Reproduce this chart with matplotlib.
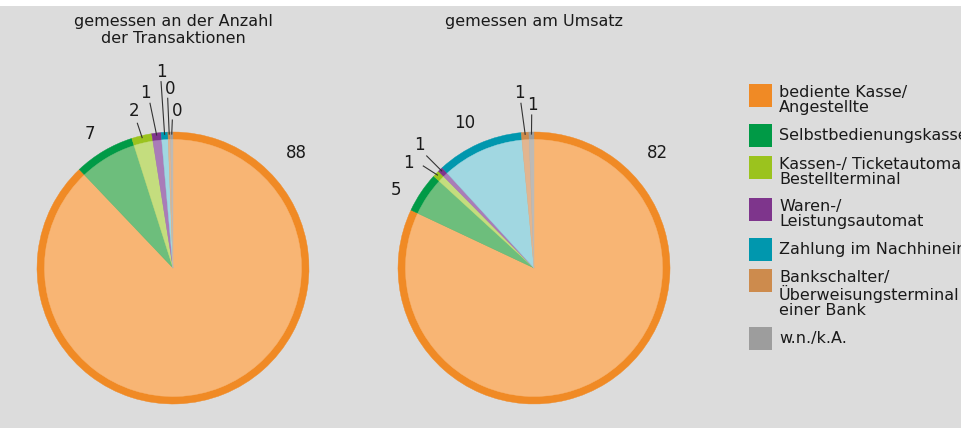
import numpy as np
import matplotlib.pyplot as plt
from matplotlib.patches import Rectangle

# data
categories = ['bediente Kasse/\nAngestellte', 'Selbstbedienungskasse',
              'Kassen-/ Ticketautomat/\nBestellterminal', 'Waren-/\nLeistungsautomat',
              'Zahlung im Nachhinein', 'Bankschalter/\nÜberweisungsterminal\neiner Bank',
              'w.n./k.A.']
anzahl = [87.9, 7.2, 2.4, 1.1, 0.8, 0.3, 0.3]
umsatz = [82.0, 4.8, 0.8, 0.6, 10.3, 0.9, 0.6]
anzahl_labels = ['88', '7', '2', '1', '1', '0', '0']
umsatz_labels = ['82', '5', '1', '1', '10', '1', '1']
titles = ['gemessen an der Anzahl\nder Transaktionen', 'gemessen am Umsatz']

dark = ['#f08a25', '#009a46', '#9bc31e', '#7e358c', '#0097ae', '#cd8b4d', '#9d9d9d']
light = ['#f8b574', '#6dbe7c', '#c4dd7e', '#a97cb8', '#a1d7e1', '#e2b58f', '#bdbab6']

W, H = 962, 428
R = 136
BG = '#dcdcdc'
TXT = '#1a1a1a'

fig = plt.figure(figsize=(W / 100, H / 100), dpi=100, facecolor='white')

# overlay axes in pixel coordinates for background, titles, legend
lax = fig.add_axes([0, 0, 1, 1], zorder=0)
lax.set_xlim(0, W)
lax.set_ylim(H, 0)
lax.axis('off')
lax.add_patch(Rectangle((0, 6), W, H - 6, facecolor=BG, edgecolor='none'))

# label positions (pie units) and leader line starts
left_lab = [(0.904, 0.846), (-0.610, 0.985), (-0.287, 1.154), (-0.199, 1.287),
            (-0.088, 1.441), (-0.022, 1.316), (0.029, 1.154)]
left_lines = [None, None, (-0.262, 1.064), (-0.169, 1.211), (-0.088, 1.37),
              (-0.039, 1.248), (-0.005, 1.088)]
right_lab = [(0.904, 0.846), (-1.015, 0.574), (-0.926, 0.772), (-0.846, 0.904),
             (-0.507, 1.066), (-0.110, 1.287), (-0.015, 1.199)]
right_lines = [None, None, (-0.814, 0.75), (-0.789, 0.824), None,
               (-0.096, 1.211), (-0.017, 1.125)]

pies = [(173, 268, anzahl, anzahl_labels, left_lab, left_lines),
        (534, 268, umsatz, umsatz_labels, right_lab, right_lines)]

for (cx, cy, vals, labs, lpos, lstart), title in zip(pies, titles):
    L = 1.6
    ax = fig.add_axes([(cx - L * R) / W, (H - cy - L * R) / H, 2 * L * R / W, 2 * L * R / H],
                      zorder=1)
    for cols, rad in [(dark, 1.0), (light, 0.945)]:
        wedges, _ = ax.pie(vals, colors=cols, startangle=90, counterclock=False, radius=rad,
                           wedgeprops=dict(linewidth=0.3))
        for w in wedges:
            w.set_edgecolor(w.get_facecolor())
    ax.set_xlim(-L, L)
    ax.set_ylim(-L, L)
    ax.set_aspect('equal')
    ax.axis('off')

    cum = np.cumsum([0] + list(vals)) / sum(vals)
    for i, lab in enumerate(labs):
        x, y = lpos[i]
        ax.text(x, y, lab, ha='center', va='center', fontsize=12, color=TXT)
        if lstart[i] is not None:
            mid = (cum[i] + cum[i + 1]) / 2 * 2 * np.pi
            ex, ey = np.sin(mid) * 0.985, np.cos(mid) * 0.985
            sx, sy = lstart[i]
            ax.plot([sx, ex], [sy, ey], color='#333333', lw=0.8)

    lax.text(cx, 14, title, ha='center', va='top', fontsize=11.5, color=TXT,
             linespacing=1.15)

# legend
sq_tops = [84, 124, 156, 198, 238, 269, 327]
for i, cat in enumerate(categories):
    top = sq_tops[i]
    lax.add_patch(Rectangle((749, top), 23, 23, facecolor=dark[i], edgecolor='none'))
    if '\n' in cat:
        lax.text(779, top + 1, cat, ha='left', va='top', fontsize=11.5, color=TXT,
                 linespacing=1.0)
    else:
        lax.text(779, top + 11.5, cat, ha='left', va='center', fontsize=11.5, color=TXT)

fig.savefig('out.png', dpi=100, facecolor='white')
